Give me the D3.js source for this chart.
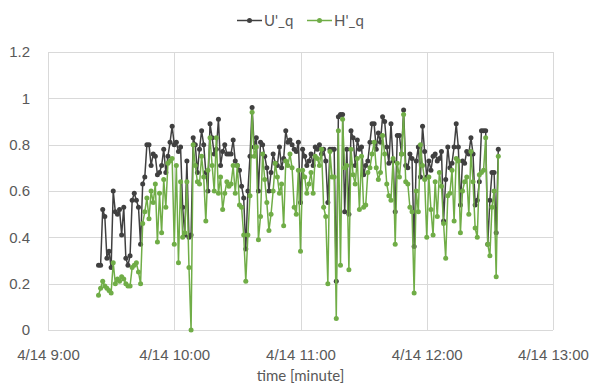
<!DOCTYPE html>
<html lang="en">
<head>
<meta charset="utf-8">
<title>U'_q and H'_q</title>
<script src="https://cdn.jsdelivr.net/npm/d3@7"></script>
<style>
  body { margin: 0; background: #fff; }
  svg { font-family: Lato, "Open Sans", sans-serif; }
  .axis text { font-size: 15px; fill: #595959; }
  .axis line { stroke: #d9d9d9; shape-rendering: crispEdges; }
  .axis path { display: none; }
  .label { font-size: 15px; fill: #595959; text-anchor: middle; }
  .legend text { font-size: 15px; fill: #595959; }
</style>
</head>
<body>
<script>
// one sample per minute, first one at 9:24
var startTime = new Date(2023, 3, 14, 9, 24);
var seriesNames = ["U'_q", "H'_q"];
var seriesColors = ["#404040", "#70ad47"];

var uq = [
  0.28, 0.28, 0.52, 0.49, 0.31, 0.34, 0.27, 0.60, 0.51, 0.50, 0.52, 0.41, 0.53, 0.31, 0.28, 0.32, 0.56, 0.59, 0.56, 0.53, 0.37, 0.63, 0.66, 0.80, 0.80, 0.71, 0.76, 0.75,
  0.67, 0.68, 0.71, 0.78, 0.68, 0.75, 0.81, 0.88, 0.80, 0.81, 0.77, 0.79, 0.53, 0.41, 0.73, 0.40, 0.41, 0.83, 0.80, 0.68, 0.78, 0.86, 0.80, 0.68, 0.60, 0.89, 0.83, 0.76, 0.78, 0.91,
  0.71, 0.77, 0.80, 0.76, 0.76, 0.76, 0.82, 0.73, 0.71, 0.69, 0.62, 0.57, 0.35, 0.60, 0.75, 0.96, 0.79, 0.83, 0.60, 0.81, 0.80, 0.75, 0.70, 0.60, 0.68, 0.76, 0.72, 0.71, 0.79, 0.70, 0.74,
  0.86, 0.81, 0.82, 0.80, 0.78, 0.77, 0.81, 0.55, 0.78, 0.75, 0.71, 0.73, 0.76, 0.71, 0.79, 0.78, 0.80, 0.76, 0.78, 0.73, 0.55, 0.78, 0.78, 0.78, 0.21, 0.92, 0.93, 0.93, 0.51, 0.78, 0.50,
  0.86, 0.83, 0.71, 0.82, 0.78, 0.79, 0.67, 0.71, 0.73, 0.81, 0.89, 0.89, 0.78, 0.85, 0.81, 0.92, 0.90, 0.79, 0.72, 0.89, 0.73, 0.51, 0.84, 0.84, 0.76, 0.95, 0.71, 0.70, 0.76, 0.74, 0.36,
  0.73, 0.79, 0.66, 0.88, 0.77, 0.66, 0.73, 0.69, 0.75, 0.76, 0.73, 0.74, 0.77, 0.47, 0.65, 0.79, 0.70, 0.72, 0.79, 0.89, 0.79, 0.54, 0.73, 0.72, 0.77, 0.76, 0.83, 0.76, 0.54, 0.56, 0.64, 0.86, 0.86, 0.86, 0.37, 0.56, 0.68, 0.68, 0.42, 0.78
];

var hq = [
  0.15, 0.18, 0.21, 0.19, 0.18, 0.17, 0.16, 0.29, 0.20, 0.22, 0.21, 0.23, 0.22, 0.20, 0.19, 0.19, 0.27, 0.28, 0.29, 0.25, 0.20, 0.46, 0.51, 0.57, 0.48, 0.60, 0.55, 0.63,
  0.38, 0.59, 0.42, 0.65, 0.53, 0.72, 0.73, 0.74, 0.37, 0.71, 0.29, 0.64, 0.40, 0.42, 0.64, 0.27, 0.00, 0.80, 0.71, 0.64, 0.63, 0.75, 0.66, 0.47, 0.69, 0.83, 0.71, 0.60, 0.83, 0.59,
  0.66, 0.52, 0.59, 0.64, 0.62, 0.63, 0.71, 0.59, 0.71, 0.54, 0.53, 0.41, 0.21, 0.41, 0.58, 0.94, 0.75, 0.79, 0.39, 0.49, 0.76, 0.65, 0.55, 0.43, 0.50, 0.60, 0.72, 0.66, 0.59, 0.63, 0.45,
  0.73, 0.71, 0.76, 0.70, 0.53, 0.50, 0.69, 0.34, 0.69, 0.66, 0.59, 0.63, 0.68, 0.59, 0.75, 0.74, 0.71, 0.78, 0.53, 0.49, 0.20, 0.77, 0.66, 0.66, 0.05, 0.86, 0.28, 0.91, 0.70, 0.71, 0.26,
  0.78, 0.67, 0.63, 0.74, 0.52, 0.75, 0.53, 0.54, 0.68, 0.70, 0.76, 0.81, 0.70, 0.65, 0.68, 0.84, 0.76, 0.63, 0.58, 0.56, 0.74, 0.37, 0.72, 0.66, 0.76, 0.93, 0.64, 0.63, 0.53, 0.51, 0.16,
  0.60, 0.51, 0.80, 0.71, 0.65, 0.40, 0.66, 0.52, 0.41, 0.64, 0.49, 0.68, 0.62, 0.46, 0.31, 0.58, 0.59, 0.69, 0.47, 0.74, 0.73, 0.42, 0.60, 0.64, 0.66, 0.50, 0.77, 0.64, 0.44, 0.40, 0.67, 0.68, 0.69, 0.83, 0.37, 0.32, 0.53, 0.60, 0.23, 0.75
];

var yTicks = [0, 0.2, 0.4, 0.6, 0.8, 1, 1.2];
var xTicks = [9, 10, 11, 12, 13]; // hours on 4/14

// Size and margins
var w = 591, h = 383;
var margin = {top: 52, right: 38, bottom: 53, left: 48};
var width = w - margin.left - margin.right;
var height = h - margin.top - margin.bottom;

var svg = d3.select("body").append("svg")
  .attr("width", w)
  .attr("height", h);

var g = svg.append("g")
  .attr("transform", "translate(" + margin.left + "," + margin.top + ")");

// Scales
var x = d3.scaleTime()
  .domain([new Date(2023, 3, 14, 9, 0), new Date(2023, 3, 14, 13, 0)])
  .range([0, width]);

var y = d3.scaleLinear()
  .domain([0, 1.2])
  .range([height, 0]);

// Grid + axes
g.append("g")
  .attr("class", "axis")
  .call(d3.axisLeft(y)
    .tickValues(yTicks)
    .tickSize(-width)
    .tickPadding(18)
    .tickFormat(d3.format(".1~f")));

g.append("g")
  .attr("class", "axis")
  .attr("transform", "translate(0," + height + ")")
  .call(d3.axisBottom(x)
    .tickValues(xTicks.map(function(hr) { return new Date(2023, 3, 14, hr, 0); }))
    .tickSize(-height)
    .tickPadding(19)
    .tickFormat(d3.timeFormat("%-m/%-d %-H:%M")));

// Axis title
svg.append("text")
  .attr("class", "label")
  .attr("x", margin.left + width / 2)
  .attr("y", 381)
  .text("time [minute]");

// Series
var series = [uq, hq].map(function(vals, k) {
  return {
    name: seriesNames[k],
    color: seriesColors[k],
    points: vals.map(function(v, i) {
      return {t: d3.timeMinute.offset(startTime, i), v: v};
    })
  };
});

var line = d3.line()
  .x(function(d) { return x(d.t); })
  .y(function(d) { return y(d.v); });

series.forEach(function(s) {
  var sg = g.append("g");
  sg.append("path")
    .datum(s.points)
    .attr("d", line)
    .attr("fill", "none")
    .attr("stroke", s.color)
    .attr("stroke-width", 1.5)
    .attr("stroke-linejoin", "round");
  sg.selectAll("circle")
    .data(s.points)
    .enter()
    .append("circle")
    .attr("cx", function(d) { return x(d.t); })
    .attr("cy", function(d) { return y(d.v); })
    .attr("r", 2.5)
    .attr("fill", s.color);
});

// Legend
var legendX = [237, 307];
var legend = svg.append("g").attr("class", "legend");
series.forEach(function(s, k) {
  var lx = legendX[k];
  legend.append("line")
    .attr("x1", lx).attr("x2", lx + 25)
    .attr("y1", 20.5).attr("y2", 20.5)
    .attr("stroke", s.color)
    .attr("stroke-width", 1.5);
  legend.append("circle")
    .attr("cx", lx + 12.5).attr("cy", 20.5)
    .attr("r", 2.5)
    .attr("fill", s.color);
  legend.append("text")
    .attr("x", lx + 27)
    .attr("y", 26)
    .text(s.name);
});
</script>
</body>
</html>
